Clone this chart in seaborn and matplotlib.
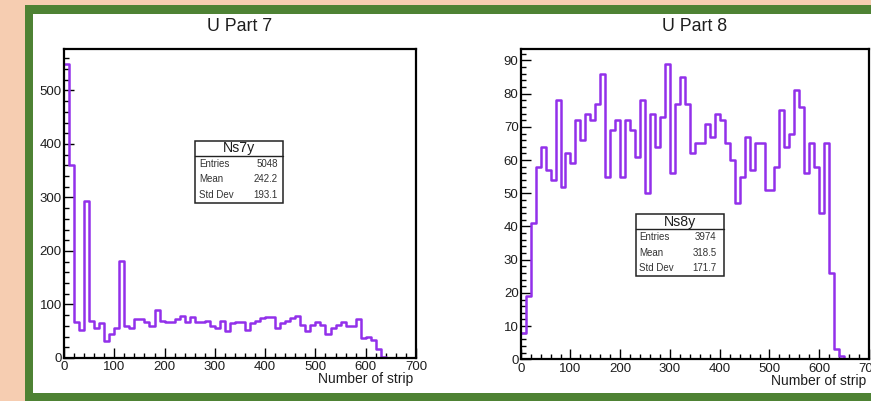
import numpy as np
import pandas as pd
import matplotlib
matplotlib.use("Agg")
import matplotlib.pyplot as plt
from matplotlib.patches import Rectangle
from matplotlib.ticker import MultipleLocator
import seaborn as sns

# Strip occupancy histograms, 70 bins of width 10 over 0..700
bin_edges = np.arange(0, 710, 10)

part7_counts = [550, 360, 67, 53, 294, 70, 57, 65, 31, 45,
                56, 182, 59, 56, 73, 73, 68, 60, 90, 70,
                68, 67, 72, 79, 67, 77, 67, 67, 70, 60,
                56, 70, 50, 65, 67, 68, 53, 65, 70, 75,
                77, 77, 56, 65, 70, 75, 78, 62, 50, 62,
                67, 62, 44, 56, 62, 67, 59, 59, 72, 37,
                40, 34, 16, 2, 0, 0, 0, 0, 0, 0]

part8_counts = [8, 19, 41, 58, 64, 57, 54, 78, 52, 62,
                59, 72, 66, 74, 72, 77, 86, 55, 69, 72,
                55, 72, 69, 61, 78, 50, 74, 64, 73, 89,
                56, 77, 85, 77, 62, 65, 65, 71, 67, 74,
                72, 65, 60, 47, 55, 67, 57, 65, 65, 51,
                51, 58, 75, 64, 68, 81, 76, 56, 65, 58,
                44, 65, 26, 3, 1, 0, 0, 0, 0, 0]

titles = ["U Part 7", "U Part 8"]
hist_names = ["Ns7y", "Ns8y"]
stat_labels = ["Entries", "Mean", "Std Dev"]
part7_stats = ["5048", "242.2", "193.1"]
part8_stats = ["3974", "318.5", "171.7"]
x_label = "Number of strip"

PEACH = "#F6CDB1"
GREEN = "#4E8234"
VIOLET = "#9230EA"
INK = "#1e1e1e"

sns.set_theme(style="white")
plt.rcParams["font.family"] = ["Liberation Sans", "DejaVu Sans"]

W, H = 871, 401
fig = plt.figure(figsize=(W / 100, H / 100), dpi=100)
fig.patch.set_facecolor(PEACH)

# green slide frame with white interior
fig.add_artist(Rectangle((25 / W, 0), 1, (H - 5) / H, transform=fig.transFigure,
                         facecolor=GREEN, edgecolor="none", zorder=-2))
fig.add_artist(Rectangle((33 / W, (H - 393) / H), 1, (393 - 14) / H,
                         transform=fig.transFigure, facecolor="white",
                         edgecolor="none", zorder=-1))


def px_axes(left, top, right, bottom):
    return fig.add_axes([left / W, (H - bottom) / H, (right - left) / W, (bottom - top) / H])


ax7 = px_axes(64, 49, 416, 358)
ax8 = px_axes(520.7, 49, 869, 359.3)

panels = [
    (ax7, part7_counts, part7_stats, 100, 20,
     dict(box=(0.372, 0.502, 0.622, 0.702), sep=0.654, head=0.681,
          rows=(0.629, 0.578, 0.526), lx=0.384, rx=0.607)),
    (ax8, part8_counts, part8_stats, 10, 2,
     dict(box=(0.330, 0.268, 0.584, 0.468), sep=0.420, head=0.443,
          rows=(0.395, 0.3435, 0.293), lx=0.3405, rx=0.563)),
]

for i, (ax, counts, stats, ymaj, ymin, box) in enumerate(panels):
    centers = (bin_edges[:-1] + bin_edges[1:]) / 2
    df = pd.DataFrame({"strip": centers, "count": counts})
    sns.histplot(data=df, x="strip", weights="count", binwidth=10,
                 binrange=(bin_edges[0], bin_edges[-1]),
                 element="step", fill=False, color=VIOLET, linewidth=1.8, ax=ax)

    ax.set_facecolor("white")
    ax.set_xlim(0, 700)
    ax.set_ylim(0, 1.05 * max(counts))
    ax.set_ylabel("")
    ax.set_xlabel("")
    ax.xaxis.set_major_locator(MultipleLocator(100))
    ax.xaxis.set_minor_locator(MultipleLocator(20))
    ax.yaxis.set_major_locator(MultipleLocator(ymaj))
    ax.yaxis.set_minor_locator(MultipleLocator(ymin))
    ax.tick_params(which="both", direction="in", bottom=True, left=True,
                   top=False, right=False, color="black", width=1.0,
                   labelsize=9.5, labelcolor=INK)
    ax.tick_params(which="major", length=7, pad=1.5)
    ax.tick_params(which="minor", length=3.5)
    ax.tick_params(axis="x", which="major", pad=2.5)
    for sp in ax.spines.values():
        sp.set_visible(True)
        sp.set_color("black")
        sp.set_linewidth(1.6)

    ax.set_title(titles[i], fontsize=12.8, color=INK, pad=13)
    ax.text(0.993, -0.082, x_label, transform=ax.transAxes, ha="right",
            va="baseline", fontsize=10, color=INK)

    # statistics box
    x0, y0, x1, y1 = box["box"]
    ax.add_patch(Rectangle((x0, y0), x1 - x0, y1 - y0, transform=ax.transAxes,
                           facecolor="white", edgecolor="#222222", linewidth=1.1,
                           zorder=6))
    ax.plot([x0, x1], [box["sep"], box["sep"]], transform=ax.transAxes,
            color="#222222", linewidth=1.0, zorder=7)
    ax.text((x0 + x1) / 2, box["head"], hist_names[i], transform=ax.transAxes,
            ha="center", va="center", fontsize=10.2, color=INK, zorder=8)
    for lab, val, yy in zip(stat_labels, stats, box["rows"]):
        ax.text(box["lx"], yy, lab, transform=ax.transAxes, ha="left",
                va="center", fontsize=7, color="#333333", zorder=8)
        ax.text(box["rx"], yy, val, transform=ax.transAxes, ha="right",
                va="center", fontsize=7, color="#333333", zorder=8)

fig.savefig("out.png", dpi=100, facecolor=fig.get_facecolor())
